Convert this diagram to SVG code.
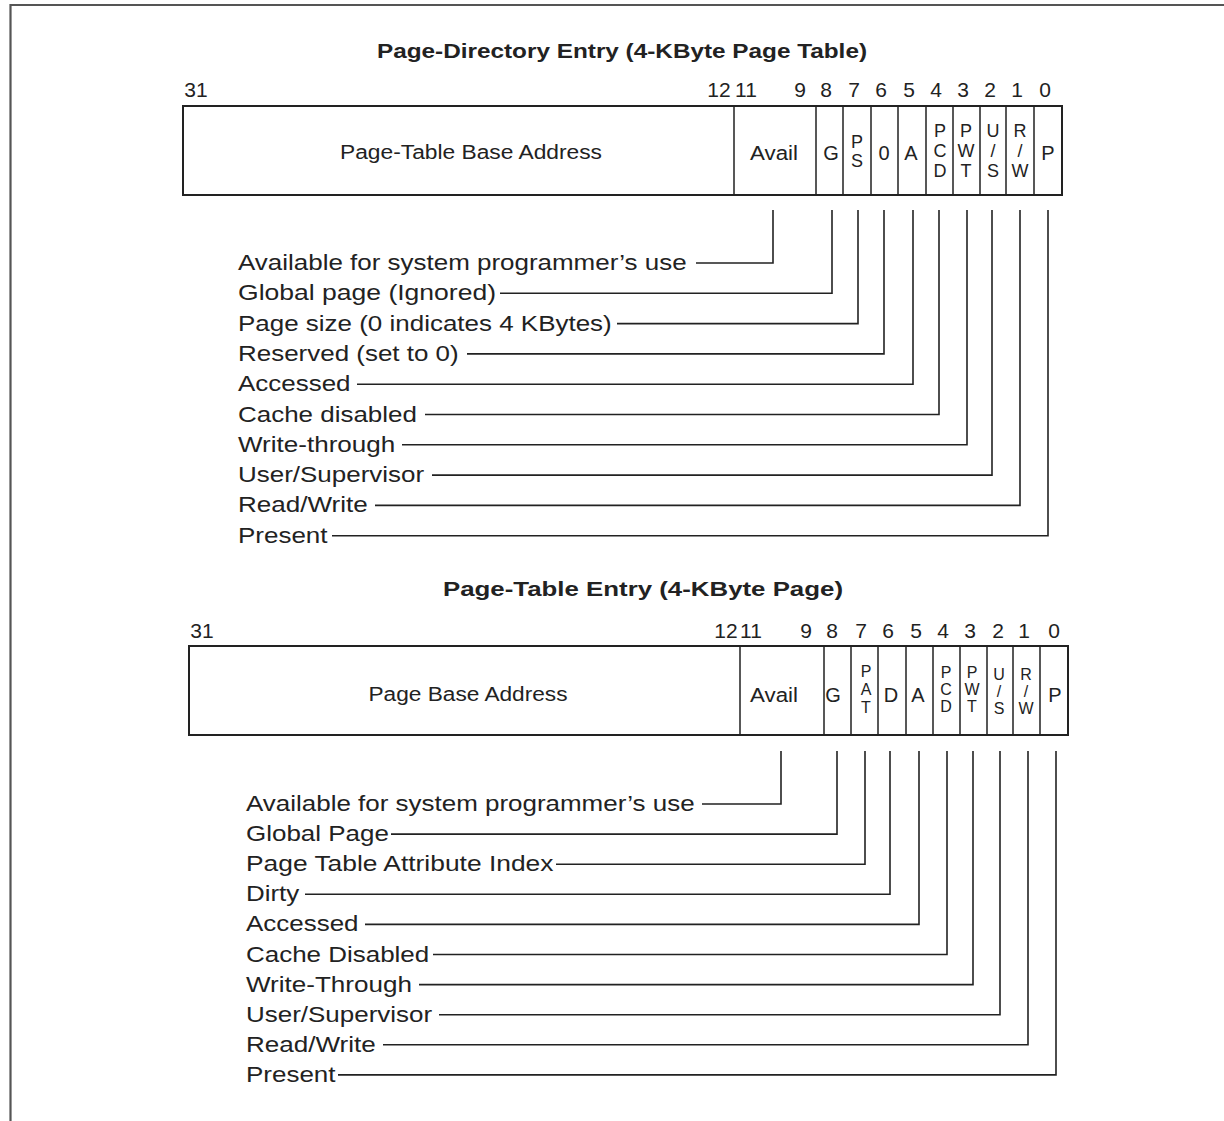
<svg xmlns="http://www.w3.org/2000/svg" width="1224" height="1121" viewBox="0 0 1224 1121">
<style>
text{font-family:"Liberation Sans",Arial,sans-serif;fill:#222}
.t{font-weight:bold;font-size:20px;text-anchor:middle}
.n{font-size:21px;text-anchor:middle}
.c{font-size:20px;text-anchor:middle}
.s{font-size:18px;text-anchor:middle}
.s2{font-size:16px;text-anchor:middle}
.l{font-size:22px}
.box{fill:#fff;stroke:#222;stroke-width:2}
.div{stroke:#222;stroke-width:1.5}
.con{fill:none;stroke:#222;stroke-width:1.6}
.frame{stroke:#555;stroke-width:2.2;fill:none}
</style>
<rect width="1224" height="1121" fill="#fff"/>
<path class="frame" d="M10.5 1121V5H1224"/>

<g id="pde">
<text class="t" x="622" y="58" textLength="490" lengthAdjust="spacingAndGlyphs">Page-Directory Entry (4-KByte Page Table)</text>
<text class="n" x="196" y="97">31</text>
<text class="n" x="719" y="97">12</text>
<text class="n" x="746" y="97">11</text>
<text class="n" x="800" y="97">9</text>
<text class="n" x="826" y="97">8</text>
<text class="n" x="854" y="97">7</text>
<text class="n" x="881" y="97">6</text>
<text class="n" x="909" y="97">5</text>
<text class="n" x="936" y="97">4</text>
<text class="n" x="963" y="97">3</text>
<text class="n" x="990" y="97">2</text>
<text class="n" x="1017" y="97">1</text>
<text class="n" x="1045" y="97">0</text>
<rect class="box" x="183" y="106" width="879" height="89"/>
<path class="div" d="M734 106V195M816 106V195M843 106V195M871 106V195M898 106V195M926 106V195M953 106V195M980 106V195M1006 106V195M1034 106V195"/>
<text class="c" x="471" y="159" textLength="262" lengthAdjust="spacingAndGlyphs">Page-Table Base Address</text>
<text class="c" x="774" y="160" textLength="48" lengthAdjust="spacingAndGlyphs">Avail</text>
<text class="c" x="831" y="160">G</text>
<text class="s" x="857" y="148">P</text>
<text class="s" x="857" y="167">S</text>
<text class="c" x="884" y="160">0</text>
<text class="c" x="911" y="160">A</text>
<text class="s" x="940" y="137">P</text>
<text class="s" x="940" y="157">C</text>
<text class="s" x="940" y="177">D</text>
<text class="s" x="966" y="137">P</text>
<text class="s" x="966" y="157">W</text>
<text class="s" x="966" y="177">T</text>
<text class="s" x="993" y="137">U</text>
<text class="s" x="993" y="157">/</text>
<text class="s" x="993" y="177">S</text>
<text class="s" x="1020" y="137">R</text>
<text class="s" x="1020" y="157">/</text>
<text class="s" x="1020" y="177">W</text>
<text class="c" x="1048" y="160">P</text>
</g>

<g id="pde-labels">
<text class="l" x="238" y="270" textLength="448.6" lengthAdjust="spacingAndGlyphs">Available for system programmer’s use</text>
<text class="l" x="238" y="300.3" textLength="258" lengthAdjust="spacingAndGlyphs">Global page (Ignored)</text>
<text class="l" x="238" y="330.6" textLength="373.7" lengthAdjust="spacingAndGlyphs">Page size (0 indicates 4 KBytes)</text>
<text class="l" x="238" y="360.9" textLength="220.7" lengthAdjust="spacingAndGlyphs">Reserved (set to 0)</text>
<text class="l" x="238" y="391.2" textLength="112.5" lengthAdjust="spacingAndGlyphs">Accessed</text>
<text class="l" x="238" y="421.5" textLength="178.9" lengthAdjust="spacingAndGlyphs">Cache disabled</text>
<text class="l" x="238" y="451.8" textLength="157.2" lengthAdjust="spacingAndGlyphs">Write-through</text>
<text class="l" x="238" y="482.1" textLength="186.1" lengthAdjust="spacingAndGlyphs">User/Supervisor</text>
<text class="l" x="238" y="512.4" textLength="129.8" lengthAdjust="spacingAndGlyphs">Read/Write</text>
<text class="l" x="238" y="542.7" textLength="89.5" lengthAdjust="spacingAndGlyphs">Present</text>
</g>

<g id="pte">
<text class="t" x="643" y="596" textLength="400" lengthAdjust="spacingAndGlyphs">Page-Table Entry (4-KByte Page)</text>
<text class="n" x="202" y="638">31</text>
<text class="n" x="726" y="638">12</text>
<text class="n" x="751" y="638">11</text>
<text class="n" x="806" y="638">9</text>
<text class="n" x="832" y="638">8</text>
<text class="n" x="861" y="638">7</text>
<text class="n" x="888" y="638">6</text>
<text class="n" x="916" y="638">5</text>
<text class="n" x="943" y="638">4</text>
<text class="n" x="970" y="638">3</text>
<text class="n" x="998" y="638">2</text>
<text class="n" x="1024" y="638">1</text>
<text class="n" x="1054" y="638">0</text>
<rect class="box" x="189" y="646" width="879" height="89"/>
<path class="div" d="M740 646V735M824 646V735M851 646V735M878 646V735M906 646V735M933 646V735M960 646V735M987 646V735M1013 646V735M1040 646V735"/>
<text class="c" x="468" y="701" textLength="199" lengthAdjust="spacingAndGlyphs">Page Base Address</text>
<text class="c" x="774" y="702" textLength="48" lengthAdjust="spacingAndGlyphs">Avail</text>
<text class="c" x="833" y="702">G</text>
<text class="s2" x="866" y="677">P</text>
<text class="s2" x="866" y="695">A</text>
<text class="s2" x="866" y="713">T</text>
<text class="c" x="891" y="702">D</text>
<text class="c" x="918" y="702">A</text>
<text class="s2" x="946" y="678">P</text>
<text class="s2" x="946" y="695">C</text>
<text class="s2" x="946" y="712">D</text>
<text class="s2" x="972" y="678">P</text>
<text class="s2" x="972" y="695">W</text>
<text class="s2" x="972" y="712">T</text>
<text class="s2" x="999" y="680">U</text>
<text class="s2" x="999" y="697">/</text>
<text class="s2" x="999" y="714">S</text>
<text class="s2" x="1026" y="680">R</text>
<text class="s2" x="1026" y="697">/</text>
<text class="s2" x="1026" y="714">W</text>
<text class="c" x="1055" y="702">P</text>
</g>

<g id="pte-labels">
<text class="l" x="246" y="811" textLength="448.6" lengthAdjust="spacingAndGlyphs">Available for system programmer’s use</text>
<text class="l" x="246" y="841.1" textLength="142.9" lengthAdjust="spacingAndGlyphs">Global Page</text>
<text class="l" x="246" y="871.2" textLength="307.4" lengthAdjust="spacingAndGlyphs">Page Table Attribute Index</text>
<text class="l" x="246" y="901.3" textLength="53.3" lengthAdjust="spacingAndGlyphs">Dirty</text>
<text class="l" x="246" y="931.4" textLength="112.5" lengthAdjust="spacingAndGlyphs">Accessed</text>
<text class="l" x="246" y="961.5" textLength="183.2" lengthAdjust="spacingAndGlyphs">Cache Disabled</text>
<text class="l" x="246" y="991.6" textLength="165.9" lengthAdjust="spacingAndGlyphs">Write-Through</text>
<text class="l" x="246" y="1021.7" textLength="186.1" lengthAdjust="spacingAndGlyphs">User/Supervisor</text>
<text class="l" x="246" y="1051.8" textLength="129.8" lengthAdjust="spacingAndGlyphs">Read/Write</text>
<text class="l" x="246" y="1081.9" textLength="89.5" lengthAdjust="spacingAndGlyphs">Present</text>
</g>

<g id="connectors" class="con">
<path class="con" d="M696 263H773V210"/>
<path class="con" d="M500 293.3H832V210"/>
<path class="con" d="M617 323.6H858V210"/>
<path class="con" d="M467 353.9H884V210"/>
<path class="con" d="M357 384.2H913V210"/>
<path class="con" d="M425 414.5H939V210"/>
<path class="con" d="M402 444.8H967V210"/>
<path class="con" d="M432 475.1H992V210"/>
<path class="con" d="M375 505.4H1020V210"/>
<path class="con" d="M332 535.7H1048V210"/>

<path class="con" d="M702 804H781V751"/>
<path class="con" d="M391 834.1H837V751"/>
<path class="con" d="M556 864.2H865V751"/>
<path class="con" d="M305 894.3H890V751"/>
<path class="con" d="M365 924.4H919V751"/>
<path class="con" d="M433 954.5H947V751"/>
<path class="con" d="M419 984.6H973V751"/>
<path class="con" d="M439 1014.7H1000V751"/>
<path class="con" d="M383 1044.8H1028V751"/>
<path class="con" d="M338 1074.9H1056V751"/>
</g>
</svg>
